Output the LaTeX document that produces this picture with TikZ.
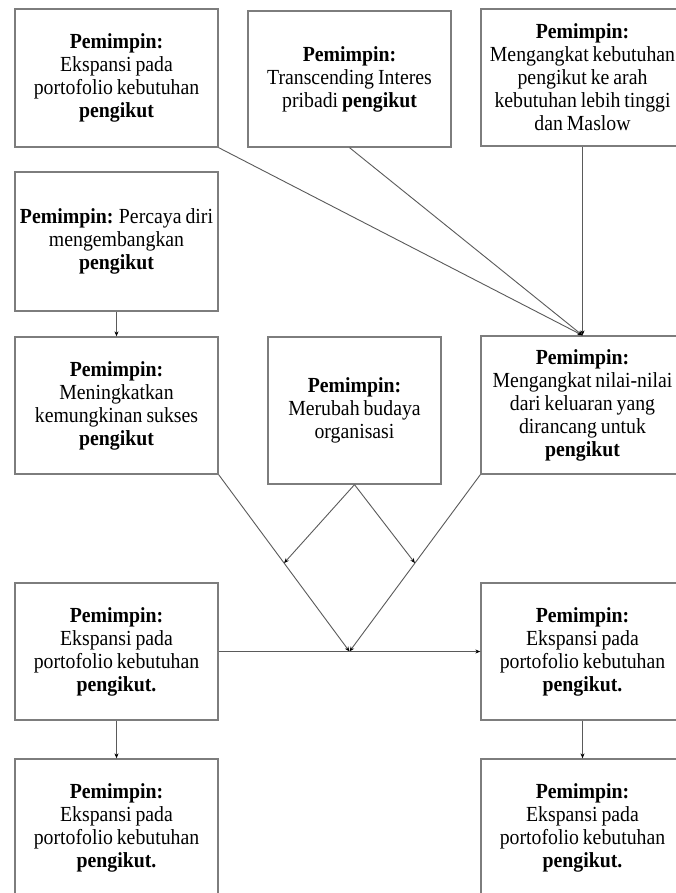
\documentclass[tikz,border=0pt]{standalone}
\usepackage{fontspec}
\setmainfont{Liberation Serif}[FakeStretch=0.92, WordSpace=0.8]
\usetikzlibrary{calc,arrows.meta}
\tikzset{
  box/.style={draw={rgb,255:red,125;green,125;blue,125}, line width=1.3pt, fill=white,
    minimum width=203pt, inner sep=0pt, align=center,
    font=\fontsize{21.5}{23}\selectfont},
  conn/.style={draw={rgb,255:red,90;green,90;blue,90}, line width=0.9pt,
    -{Stealth[length=5pt,width=4pt,black]}}
}
\begin{document}
\begin{tikzpicture}[x=1pt,y=-1pt]
\useasboundingbox (0,0) rectangle (676,893);
\clip (0,0) rectangle (676,893);
\fill[white] (0,0) rectangle (676,893);

\node[box, minimum height=138pt] (A) at (116.5,78) {\textbf{Pemimpin:}\\ Ekspansi pada\\ portofolio kebutuhan\\ \textbf{pengikut}};
\node[box, minimum height=136pt] (B) at (349.5,79) {\textbf{Pemimpin:}\\ Transcending Interes\\ pribadi \textbf{pengikut}};
\node[box, minimum height=137pt] (C) at (582.5,77.5) {\textbf{Pemimpin:}\\ Mengangkat kebutuhan\\ pengikut ke arah\\ kebutuhan lebih tinggi\\ dan Maslow};
\node[box, minimum height=139pt] (D) at (116.5,241.5) {\textbf{Pemimpin:} Percaya diri\\ mengembangkan\\ \textbf{pengikut}};
\node[box, minimum height=137pt] (E) at (116.5,405.5) {\textbf{Pemimpin:}\\ Meningkatkan\\ kemungkinan sukses\\ \textbf{pengikut}};
\node[box, minimum width=173pt, minimum height=147pt] (F) at (354.5,410.5) {\textbf{Pemimpin:}\\ Merubah budaya\\ organisasi};
\node[box, minimum height=138pt] (G) at (582.5,405) {\textbf{Pemimpin:}\\ Mengangkat nilai-nilai\\ dari keluaran yang\\ dirancang untuk\\ \textbf{pengikut}};
\node[box, minimum height=137pt] (H) at (116.5,651.5) {\textbf{Pemimpin:}\\ Ekspansi pada\\ portofolio kebutuhan\\ \textbf{pengikut.}};
\node[box, minimum height=137pt] (I) at (582.5,651.5) {\textbf{Pemimpin:}\\ Ekspansi pada\\ portofolio kebutuhan\\ \textbf{pengikut.}};
\node[box, minimum height=137pt] (J) at (116.5,827.5) {\textbf{Pemimpin:}\\ Ekspansi pada\\ portofolio kebutuhan\\ \textbf{pengikut.}};
\node[box, minimum height=137pt] (K) at (582.5,827.5) {\textbf{Pemimpin:}\\ Ekspansi pada\\ portofolio kebutuhan\\ \textbf{pengikut.}};

\coordinate (conv) at ($(H.east)!0.5!(I.west)$);
\coordinate (mL) at ($(E.south east)!0.5!(conv)$);
\coordinate (mR) at ($(G.south west)!0.5!(conv)$);

\draw[conn] (A.south east) -- (G.north);
\draw[conn] (B.south) -- (G.north);
\draw[conn] (C.south) -- (G.north);
\draw[conn] (D.south) -- (E.north);
\draw[conn] (E.south east) -- (conv);
\draw[conn] (G.south west) -- (conv);
\draw[conn] (F.south) -- (mL);
\draw[conn] (F.south) -- (mR);
\draw[conn] (H.east) -- (I.west);
\draw[conn] (H.south) -- (J.north);
\draw[conn] (I.south) -- (K.north);
\end{tikzpicture}
\end{document}
